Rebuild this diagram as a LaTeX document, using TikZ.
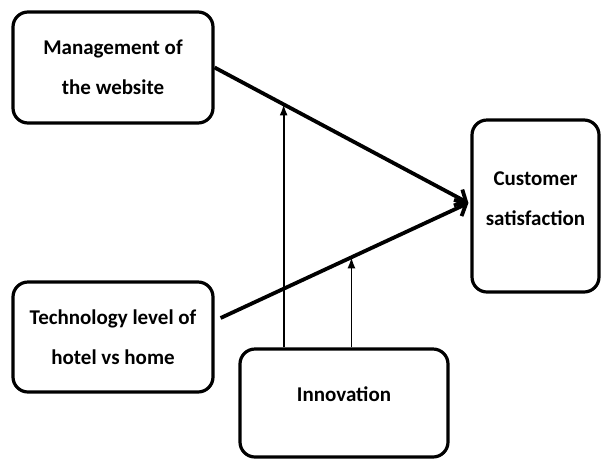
\documentclass[tikz,border=0pt]{standalone}
\usepackage{fontspec}
\setmainfont{Carlito}
\usetikzlibrary{arrows.meta,calc}

\begin{document}
\begin{tikzpicture}[x=1pt,y=-1pt,
		box/.style={draw, line width=3.2pt, rounded corners=15pt, align=center,
			font=\fontsize{21}{40}\selectfont\bfseries},
		path/.style={line width=3.8pt, -{Straight Barb[length=9pt,width=18pt,line width=3.8pt]}},
		modarrow/.style={line width=1.8pt, -{Latex[length=11pt,width=8pt]}}]
	\useasboundingbox (0,0) rectangle (601,459);
	% constructs
	\node [box, minimum width=200pt, minimum height=111pt] (mgmt) at (113,67.5) {Management of\\the website};
	\node [box, minimum width=200pt, minimum height=110pt] (tech) at (113,337) {Technology level of\\hotel vs home};
	\node [box, minimum width=127pt, minimum height=172pt, text depth=14pt] (cust) at (535.5,206) {Customer\\satisfaction};
	\node [box, minimum width=208pt, minimum height=108pt, text depth=18pt] (innov) at (344,403) {Innovation};
	% direct effects
	\coordinate (hub) at ([xshift=-2pt,yshift=3pt]cust.west);
	\coordinate (start2) at ([xshift=6pt,yshift=19pt]tech.east);
	\draw [path] (mgmt.east) -- (hub);
	\draw [path] (start2) -- (hub);
	% moderation
	\coordinate (m1) at ($(mgmt.east)!0.272!(hub)$);
	\coordinate (m2) at ($(start2)!0.528!(hub)$);
	\draw [modarrow] (m1 |- innov.north) -- (m1);
	\draw [modarrow] (m2 |- innov.north) -- (m2);
\end{tikzpicture}
\end{document}
